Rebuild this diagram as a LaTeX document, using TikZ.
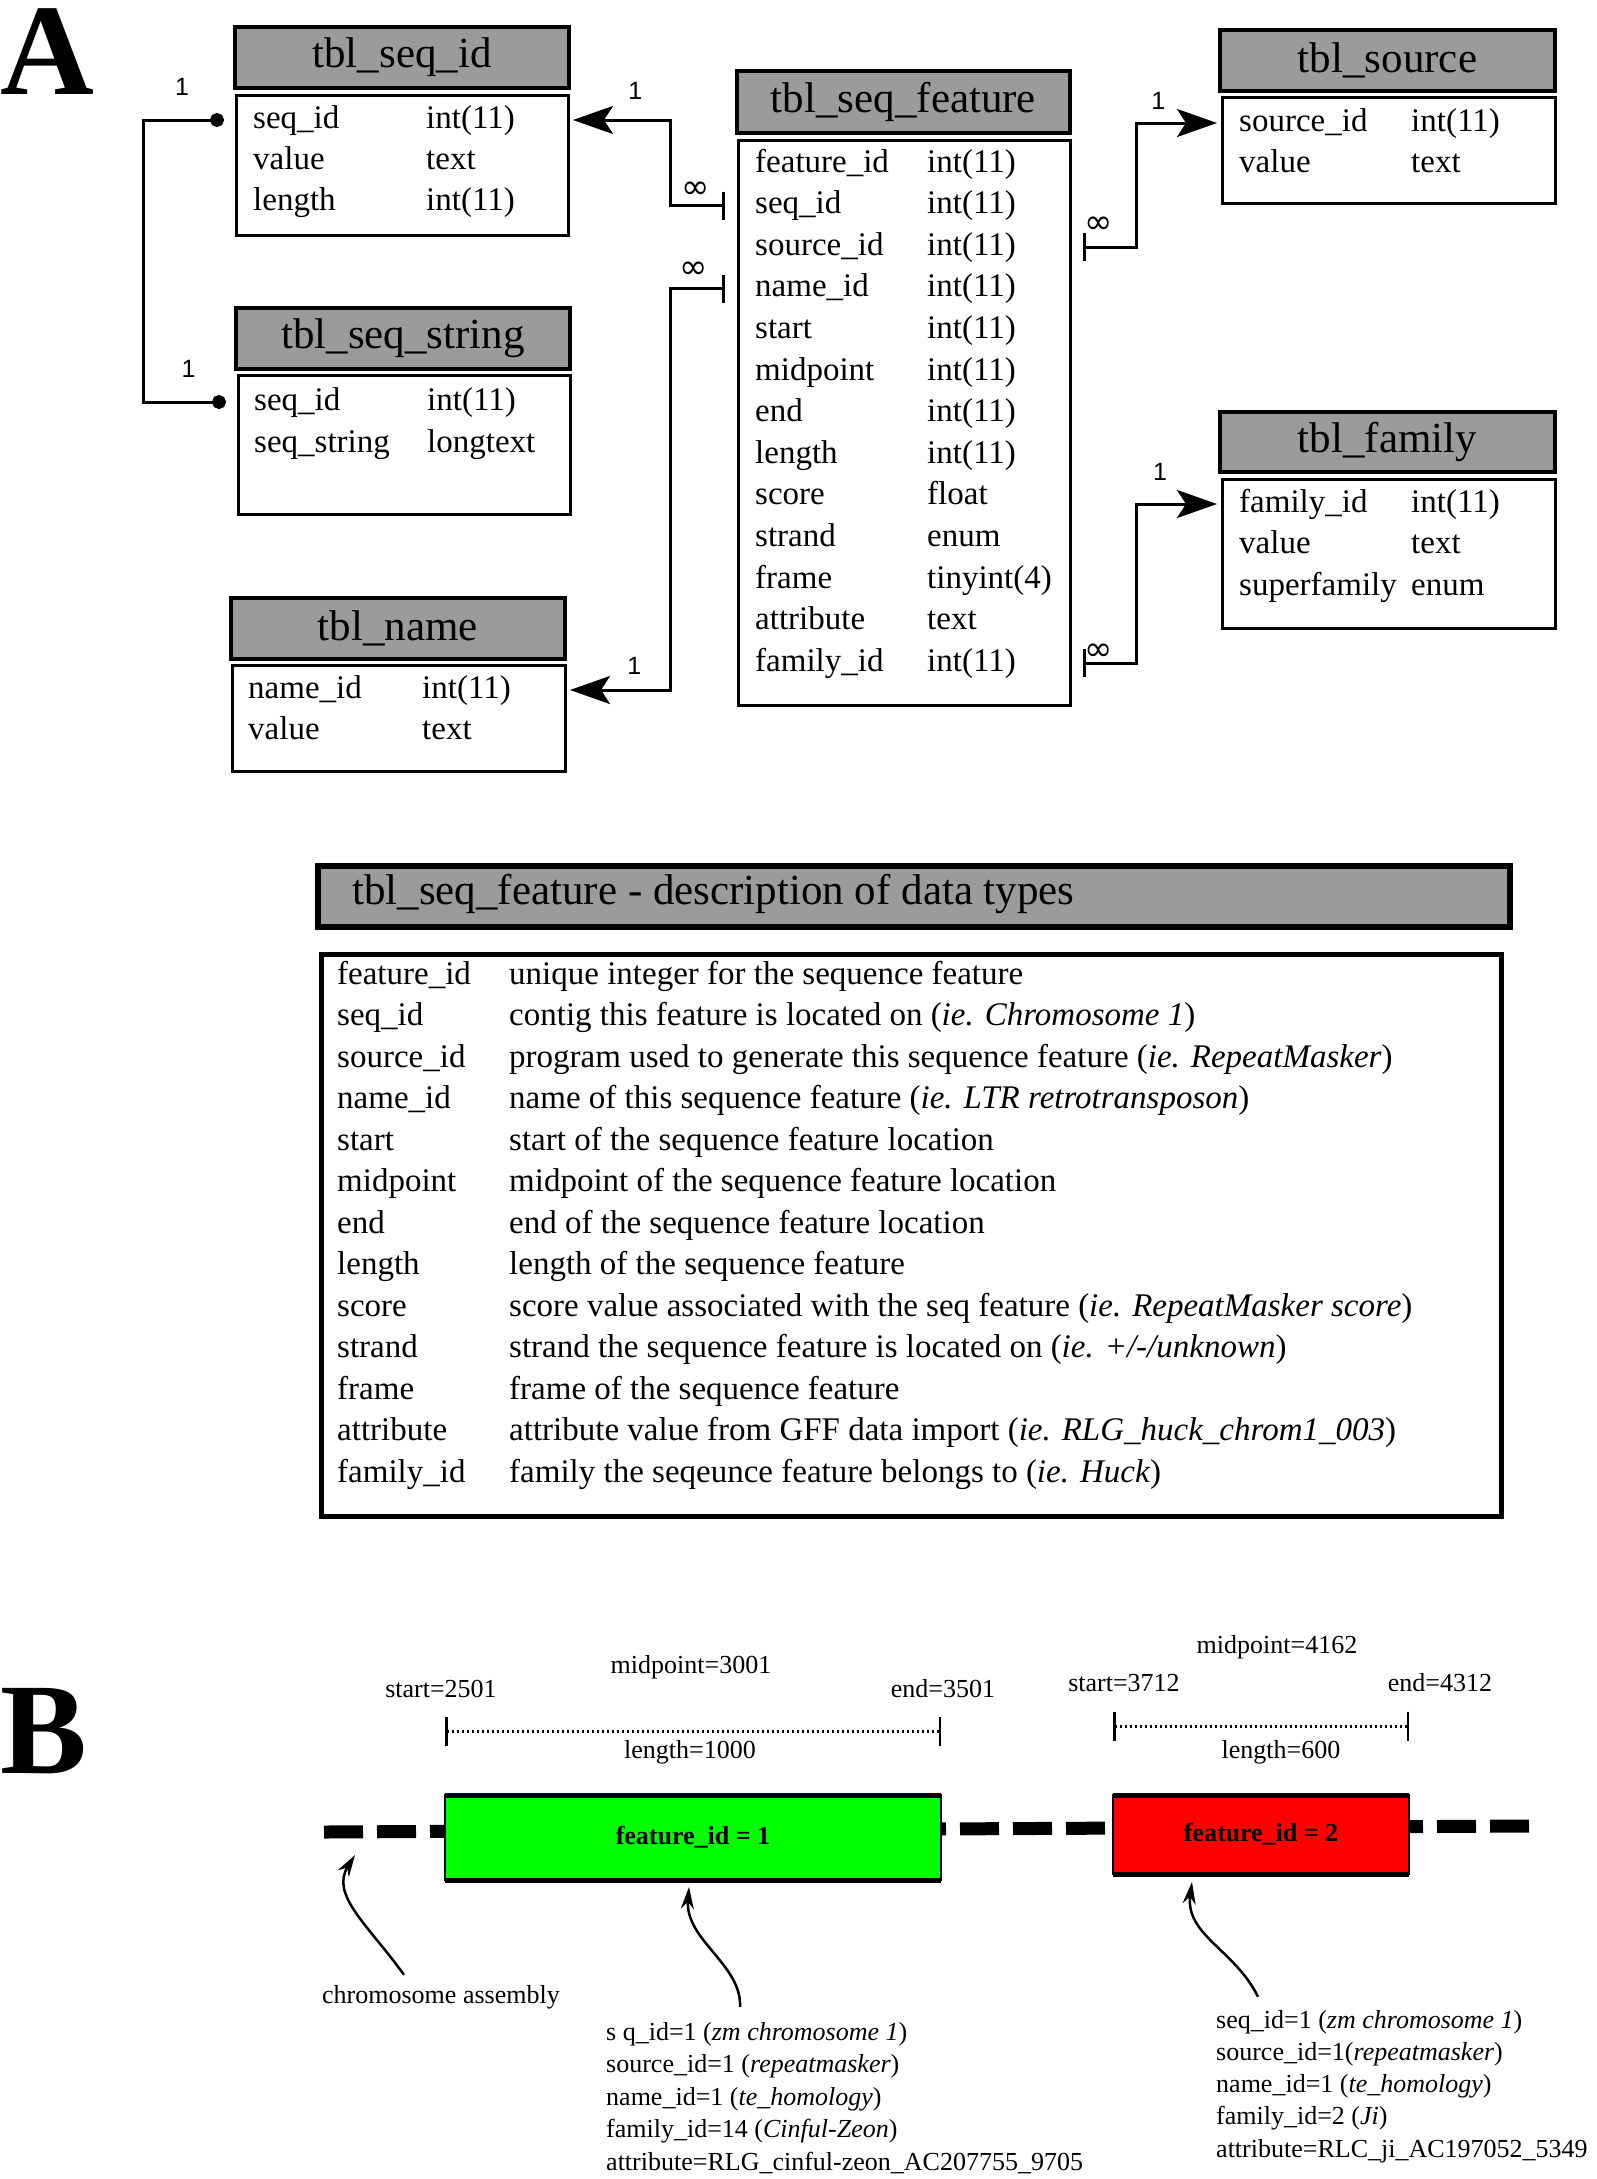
\documentclass[tikz,border=0pt]{standalone}
\usepackage{fontspec}
\setmainfont{Liberation Serif}
\newfontfamily\lblfont{Liberation Sans}
\newfontfamily\inffont{DejaVu Sans}
\usetikzlibrary{arrows.meta}

\definecolor{hdrgray}{HTML}{9B9B9B}
\definecolor{featgreen}{HTML}{00FF00}
\definecolor{featred}{HTML}{FF0000}

\newcommand{\rowfont}{\fontsize{33}{41}\selectfont}
\newcommand{\hdrfont}{\fontsize{43}{50}\selectfont}
\newcommand{\smfont}{\fontsize{26}{32}\selectfont}

\tikzset{
  tblhead/.style={draw, fill=hdrgray, line width=3.5pt, inner sep=0pt, outer sep=0pt, anchor=north west, font=\hdrfont},
  tblbody/.style={draw, fill=white, line width=3pt, inner sep=0pt, outer sep=0pt, anchor=north west},
  deschead/.style={draw, fill=hdrgray, line width=6pt, inner sep=0pt, outer sep=0pt, anchor=north west},
  descbody/.style={draw, fill=white, line width=5pt, inner sep=0pt, outer sep=0pt, anchor=north west},
  fld/.style={anchor=base west, inner sep=0pt, text height=23pt, text depth=7pt, font=\rowfont},
  link/.style={line width=3pt},
  manyone/.style={link, {Bar[width=28pt]}-{Stealth[length=40pt, width=28pt, inset=9pt]}, shorten <=13pt, shorten >=5pt},
  oneone/.style={link, {Circle[length=14pt]}-{Circle[length=14pt]}, shorten <=12pt, shorten >=12pt},
  onelbl/.style={inner sep=0pt, font=\lblfont\fontsize{25}{25}\selectfont},
  manylbl/.style={inner sep=0pt, font=\inffont\fontsize{34}{34}\selectfont},
  panel/.style={anchor=base west, inner sep=0pt, font=\fontsize{130}{130}\selectfont\bfseries},
  blbl/.style={anchor=base, inner sep=0pt, font=\smfont},
  featbox/.style={draw, line width=2.5pt, inner sep=0pt, outer sep=0pt, anchor=north west, font=\smfont\bfseries},
  ruler/.style={line width=3pt, dash pattern=on 2.5pt off 2.5pt, {Bar[width=29pt, line width=2.5pt]}-{Bar[width=29pt, line width=2.5pt]}},
  chrom/.style={line width=13pt, dash pattern=on 39pt off 14pt},
  callout/.style={line width=2.5pt, -{Stealth[length=22pt, width=13pt]}},
}

\begin{document}
\begin{tikzpicture}[x=1pt, y=-1pt]
    \fill[white] (0,0) rectangle (1596,2179);
    \useasboundingbox (0,0) rectangle (1596,2179);

    % Panel labels
    \node[panel] (pA) at (0,94) {A};
    \node[panel] (pB) at (0,1773) {B};

    % Draw tables
    \node[tblhead, minimum width=334pt, minimum height=61pt] (seqidh) at (235,27) {tbl\_seq\_id};
    \node[tblbody, minimum width=332pt, minimum height=140pt] (seqid) at (236,95) {};
    \node[tblhead, minimum width=334pt, minimum height=61pt] (seqstrh) at (236,308) {tbl\_seq\_string};
    \node[tblbody, minimum width=332pt, minimum height=139pt] (seqstr) at (238,375) {};
    \node[tblhead, minimum width=334pt, minimum height=61pt] (nameh) at (231,598) {tbl\_name};
    \node[tblbody, minimum width=333pt, minimum height=106pt] (name) at (232,665) {};
    \node[tblhead, minimum width=333pt, minimum height=62pt] (featureh) at (737,71) {tbl\_seq\_feature};
    \node[tblbody, minimum width=332pt, minimum height=565pt] (feature) at (738,140) {};
    \node[tblhead, minimum width=335pt, minimum height=61pt] (sourceh) at (1220,30) {tbl\_source};
    \node[tblbody, minimum width=333pt, minimum height=106pt] (source) at (1222,97) {};
    \node[tblhead, minimum width=335pt, minimum height=60pt] (familyh) at (1220,412) {tbl\_family};
    \node[tblbody, minimum width=333pt, minimum height=149pt] (family) at (1222,479) {};

    % Fields
    \foreach \fname/\ftype [count=\i] in {seq\_id/int(11), value/text, length/int(11)} {
        \node[fld] (si-\i) at (253,{128+41*(\i-1)}) {\fname};
        \node[fld] (sit-\i) at (426,{128+41*(\i-1)}) {\ftype};
    }
    \foreach \fname/\ftype [count=\i] in {seq\_id/int(11), seq\_string/longtext} {
        \node[fld] (ss-\i) at (254,{410+42*(\i-1)}) {\fname};
        \node[fld] (sst-\i) at (427,{410+42*(\i-1)}) {\ftype};
    }
    \foreach \fname/\ftype [count=\i] in {name\_id/int(11), value/text} {
        \node[fld] (nm-\i) at (248,{698+41*(\i-1)}) {\fname};
        \node[fld] (nmt-\i) at (422,{698+41*(\i-1)}) {\ftype};
    }
    \foreach \fname/\ftype [count=\i] in {feature\_id/int(11), seq\_id/int(11), source\_id/int(11),
        name\_id/int(11), start/int(11), midpoint/int(11), end/int(11), length/int(11),
        score/float, strand/enum, frame/tinyint(4), attribute/text, family\_id/int(11)} {
        \node[fld] (sf-\i) at (755,{172+41.6*(\i-1)}) {\fname};
        \node[fld] (sft-\i) at (927,{172+41.6*(\i-1)}) {\ftype};
    }
    \foreach \fname/\ftype [count=\i] in {source\_id/int(11), value/text} {
        \node[fld] (so-\i) at (1239,{131+41*(\i-1)}) {\fname};
        \node[fld] (sot-\i) at (1411,{131+41*(\i-1)}) {\ftype};
    }
    \foreach \fname/\ftype [count=\i] in {family\_id/int(11), value/text, superfamily/enum} {
        \node[fld] (fa-\i) at (1239,{512+41.5*(\i-1)}) {\fname};
        \node[fld] (fat-\i) at (1411,{512+41.5*(\i-1)}) {\ftype};
    }

    % Draw connectors
    \draw[oneone] (seqid.west |- si-1) -- node[onelbl, pos=0.58, above=23pt] {1} ++(-93,0)
        |- node[onelbl, pos=0.74, above=23pt] {1} (seqstr.west |- ss-1); % seq_id to seq_id
    \draw[manyone] (feature.west |- sf-2) -- node[manylbl, pos=0.63, above=6pt] {∞} ++(-68,0)
        |- node[onelbl, pos=0.67, above=19pt] {1} (seqid.east |- si-1); % seq_id
    \draw[manyone] (feature.west |- sf-4) -- node[manylbl, pos=0.65, above=9pt] {∞} ++(-68,0)
        |- node[onelbl, pos=0.67, above=14pt] {1} (name.east |- nm-1); % name_id
    \draw[manyone] (feature.east |- sf-3) -- node[manylbl, pos=0.44, above=12pt] {∞} ++(66,0)
        |- node[onelbl, pos=0.63, above=12pt] {1} (source.west |- so-1); % source_id
    \draw[manyone] (feature.east |- sf-13) -- node[manylbl, pos=0.44, above=1pt] {∞} ++(66,0)
        |- node[onelbl, pos=0.64, above=22pt] {1} (family.west |- fa-1); % family_id

    % Description of data types
    \node[deschead, minimum width=1192pt, minimum height=61pt] (dhead) at (318,866) {};
    \node[anchor=base west, inner sep=0pt, font=\hdrfont] (dtitle) at (352,904) {tbl\_seq\_feature - description of data types};
    \node[descbody, minimum width=1180pt, minimum height=562pt] (dbody) at (321,954) {};
    \foreach \fname/\fdesc [count=\i] in {
        feature\_id/{unique integer for the sequence feature},
        seq\_id/{contig this feature is located on (\textit{ie. Chromosome 1})},
        source\_id/{program used to generate this sequence feature (\textit{ie. RepeatMasker})},
        name\_id/{name of this sequence feature (\textit{ie. LTR retrotransposon})},
        start/{start of the sequence feature location},
        midpoint/{midpoint of the sequence feature location},
        end/{end of the sequence feature location},
        length/{length of the sequence feature},
        score/{score value associated with the seq feature (\textit{ie. RepeatMasker score})},
        strand/{strand the sequence feature is located on (\textit{ie. +/-/unknown})},
        frame/{frame of the sequence feature},
        attribute/{attribute value from GFF data import (\textit{ie. RLG\_huck\_chrom1\_003})},
        family\_id/{family the seqeunce feature belongs to (\textit{ie. Huck})}} {
        \node[fld] (d-\i) at (337,{984+41.5*(\i-1)}) {\fname};
        \node[fld] (dd-\i) at (509,{984+41.5*(\i-1)}) {\fdesc};
    }

    % Chromosome with two features
    \coordinate (chrL) at (324,1832);
    \coordinate (chrR) at (1536,1826);
    \draw[chrom] (chrL) -- (chrR);
    \node[featbox, fill=featgreen, minimum width=496pt, minimum height=85pt] (f1) at (445,1795) {feature\_id = 1};
    \node[featbox, fill=featred, minimum width=296pt, minimum height=79pt] (f2) at (1113,1795) {feature\_id = 2};
    \draw[line width=5pt] (f1.north west) -- (f1.north east) (f1.south west) -- (f1.south east);
    \draw[line width=5pt] (f2.north west) -- (f2.north east) (f2.south west) -- (f2.south east);

    % Rulers
    \draw[ruler] ([yshift=64pt]f1.north west) -- ([yshift=64pt]f1.north east);
    \draw[ruler] ([yshift=69pt]f2.north west) -- ([yshift=69pt]f2.north east);
    \node[blbl] (s1) at (441,1697) {start=2501};
    \node[blbl] (e1) at (943,1697) {end=3501};
    \node[blbl] (m1) at (691,1673) {midpoint=3001};
    \node[blbl] (l1) at (690,1758) {length=1000};
    \node[blbl] (s2) at (1124,1691) {start=3712};
    \node[blbl] (e2) at (1440,1691) {end=4312};
    \node[blbl] (m2) at (1277,1653) {midpoint=4162};
    \node[blbl] (l2) at (1281,1758) {length=600};

    % Annotations
    \node[blbl, anchor=base west] (asm) at (322,2003) {chromosome assembly};
    \foreach \bline [count=\i] in {s q\_id=1 (\textit{zm chromosome 1}), source\_id=1 (\textit{repeatmasker}),
        name\_id=1 (\textit{te\_homology}), family\_id=14 (\textit{Cinful-Zeon}), attribute=RLG\_cinful-zeon\_AC207755\_9705} {
        \node[blbl, anchor=base west] (ba-\i) at (606,{2040+32.5*(\i-1)}) {\bline};
    }
    \foreach \bline [count=\i] in {seq\_id=1 (\textit{zm chromosome 1}), source\_id=1(\textit{repeatmasker}),
        name\_id=1 (\textit{te\_homology}), family\_id=2 (\textit{Ji}), attribute=RLC\_ji\_AC197052\_5349} {
        \node[blbl, anchor=base west] (bb-\i) at (1216,{2028+32.3*(\i-1)}) {\bline};
    }
    \draw[callout] ([shift={(-37pt,10pt)}]asm.north) .. controls +(-36,-50) and +(-25,40) .. ([shift={(31pt,-23pt)}]chrL);
    \draw[callout] ([shift={(134pt,15pt)}]ba-1.north west) .. controls +(2,-42) and +(-4,53) .. ([shift={(-4pt,-7pt)}]f1.south);
    \draw[callout] ([shift={(42pt,13pt)}]bb-1.north west) .. controls +(-23,-47) and +(-7,53) .. ([shift={(-69pt,-8pt)}]f2.south);
\end{tikzpicture}
\end{document}
